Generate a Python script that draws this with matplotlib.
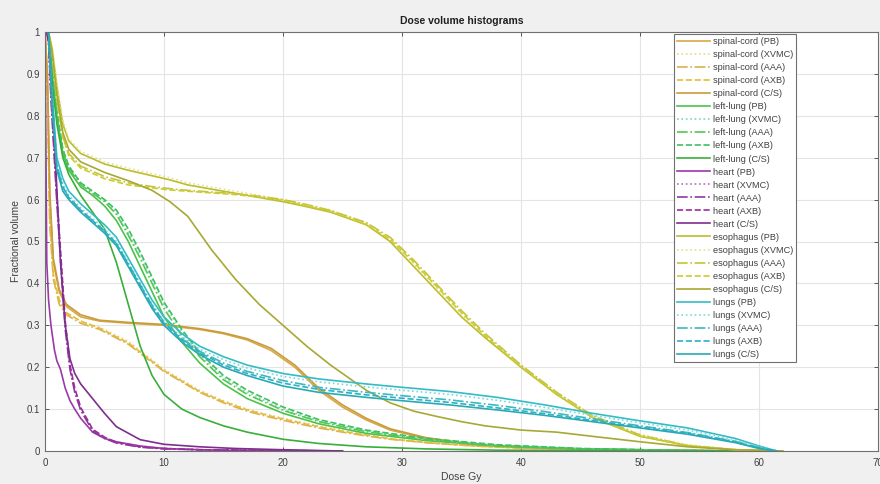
import matplotlib
matplotlib.use("Agg")
import matplotlib.pyplot as plt

# ---------------- data ----------------
structures = ["spinal-cord", "left-lung", "heart", "esophagus", "lungs"]
algorithms = ["PB", "XVMC", "AAA", "AXB", "C/S"]
x_ticks = [0, 10, 20, 30, 40, 50, 60, 70]
y_ticks = [0, 0.1, 0.2, 0.3, 0.4, 0.5, 0.6, 0.7, 0.8, 0.9, 1]
y_tick_labels = ["0", "0.1", "0.2", "0.3", "0.4", "0.5", "0.6", "0.7", "0.8", "0.9", "1"]

# spinal cord
spinal_dose = [0, 0.2, 0.4, 0.7, 1.2, 1.8, 3, 4.6, 7, 10, 13, 15, 17, 19, 21, 23, 25, 27, 29, 32, 36, 40, 45, 50, 55, 58]
spinal_pb   = [1, 0.9, 0.6, 0.45, 0.38, 0.345, 0.32, 0.31, 0.305, 0.3, 0.29, 0.28, 0.265, 0.24, 0.2, 0.145, 0.105, 0.074, 0.05, 0.03, 0.015, 0.008, 0.004, 0.002, 0.001, 0]
spinal_xvmc = [1, 0.85, 0.55, 0.42, 0.36, 0.33, 0.31, 0.295, 0.262, 0.195, 0.145, 0.12, 0.1, 0.085, 0.072, 0.06, 0.049, 0.039, 0.03, 0.021, 0.013, 0.008, 0.004, 0.002, 0.001, 0]
spinal_aaa  = [1, 0.85, 0.54, 0.41, 0.35, 0.325, 0.305, 0.29, 0.255, 0.19, 0.14, 0.115, 0.095, 0.08, 0.067, 0.055, 0.045, 0.036, 0.028, 0.02, 0.012, 0.007, 0.004, 0.002, 0.001, 0]
spinal_axb  = [1, 0.86, 0.56, 0.42, 0.36, 0.33, 0.31, 0.293, 0.258, 0.192, 0.142, 0.118, 0.098, 0.083, 0.07, 0.058, 0.047, 0.038, 0.029, 0.02, 0.012, 0.007, 0.004, 0.002, 0.001, 0]
spinal_cs   = [1, 0.9, 0.62, 0.46, 0.385, 0.35, 0.325, 0.312, 0.307, 0.302, 0.292, 0.282, 0.268, 0.245, 0.205, 0.15, 0.11, 0.078, 0.053, 0.032, 0.016, 0.009, 0.005, 0.003, 0.001, 0]

# left lung
llung_dose = [0, 0.3, 0.6, 1.0, 1.5, 2, 3, 4, 5, 6, 7, 8, 9, 10, 11.5, 13, 15, 17, 20, 23, 27, 32, 38, 45, 52, 58]
llung_pb   = [1, 1, 0.9, 0.8, 0.71, 0.67, 0.63, 0.61, 0.585, 0.55, 0.5, 0.44, 0.38, 0.32, 0.26, 0.21, 0.16, 0.125, 0.09, 0.065, 0.042, 0.025, 0.012, 0.005, 0.002, 0]
llung_xvmc = [1, 1, 0.91, 0.81, 0.72, 0.68, 0.64, 0.62, 0.6, 0.57, 0.52, 0.47, 0.41, 0.35, 0.285, 0.23, 0.175, 0.14, 0.1, 0.072, 0.048, 0.028, 0.014, 0.006, 0.002, 0]
llung_aaa  = [1, 1, 0.9, 0.8, 0.715, 0.675, 0.635, 0.615, 0.595, 0.565, 0.515, 0.46, 0.4, 0.34, 0.275, 0.225, 0.17, 0.135, 0.097, 0.07, 0.046, 0.027, 0.013, 0.005, 0.002, 0]
llung_axb  = [1, 1, 0.91, 0.81, 0.72, 0.68, 0.64, 0.62, 0.6, 0.575, 0.53, 0.475, 0.415, 0.355, 0.29, 0.235, 0.18, 0.145, 0.105, 0.075, 0.05, 0.03, 0.015, 0.006, 0.002, 0]
llung_cs   = [1, 1, 0.88, 0.78, 0.7, 0.66, 0.61, 0.57, 0.53, 0.45, 0.35, 0.25, 0.18, 0.135, 0.1, 0.08, 0.06, 0.045, 0.028, 0.018, 0.01, 0.005, 0.002, 0.001, 0, 0]

# heart
heart_dose = [0, 0.15, 0.3, 0.5, 0.8, 1.0, 1.3, 1.7, 2.1, 2.5, 3, 4, 5, 6, 8, 10, 13, 16, 20, 25]
heart_pb   = [1, 0.45, 0.36, 0.3, 0.24, 0.215, 0.195, 0.15, 0.12, 0.1, 0.078, 0.045, 0.03, 0.022, 0.012, 0.006, 0.003, 0.001, 0, 0]
heart_xvmc = [1, 1, 0.98, 0.85, 0.7, 0.6, 0.47, 0.3, 0.2, 0.145, 0.1, 0.05, 0.032, 0.02, 0.01, 0.006, 0.003, 0.002, 0.001, 0]
heart_aaa  = [1, 1, 0.97, 0.84, 0.69, 0.59, 0.46, 0.29, 0.195, 0.14, 0.097, 0.048, 0.03, 0.019, 0.009, 0.005, 0.003, 0.002, 0.001, 0]
heart_axb  = [1, 1, 0.98, 0.86, 0.71, 0.61, 0.48, 0.31, 0.205, 0.15, 0.104, 0.052, 0.033, 0.021, 0.01, 0.006, 0.003, 0.002, 0.001, 0]
heart_cs   = [1, 1, 0.98, 0.9, 0.75, 0.62, 0.45, 0.3, 0.22, 0.185, 0.16, 0.125, 0.09, 0.058, 0.027, 0.016, 0.01, 0.006, 0.003, 0]

# esophagus
eso_dose = [0, 0.3, 0.6, 1, 1.5, 2, 3, 5, 7, 9, 10.5, 12, 14, 16, 18, 20, 22, 24, 27, 29, 31, 33, 35, 37, 40, 43, 46, 50, 54, 58, 62]
eso_pb   = [1, 1, 0.96, 0.87, 0.78, 0.74, 0.71, 0.685, 0.67, 0.657, 0.647, 0.635, 0.625, 0.615, 0.605, 0.595, 0.583, 0.57, 0.54, 0.5, 0.44, 0.38, 0.32, 0.27, 0.2, 0.135, 0.08, 0.035, 0.013, 0.003, 0]
eso_xvmc = [1, 1, 0.97, 0.88, 0.79, 0.745, 0.715, 0.69, 0.675, 0.662, 0.652, 0.64, 0.63, 0.62, 0.61, 0.6, 0.588, 0.575, 0.545, 0.505, 0.445, 0.385, 0.325, 0.275, 0.205, 0.14, 0.085, 0.04, 0.015, 0.004, 0]
eso_aaa  = [1, 1, 0.95, 0.84, 0.75, 0.71, 0.68, 0.655, 0.64, 0.631, 0.626, 0.622, 0.618, 0.614, 0.608, 0.6, 0.588, 0.574, 0.545, 0.51, 0.455, 0.395, 0.335, 0.28, 0.205, 0.14, 0.085, 0.038, 0.013, 0.003, 0]
eso_axb  = [1, 1, 0.95, 0.84, 0.75, 0.705, 0.675, 0.65, 0.635, 0.628, 0.623, 0.62, 0.616, 0.612, 0.606, 0.598, 0.585, 0.572, 0.54, 0.505, 0.45, 0.39, 0.33, 0.275, 0.2, 0.135, 0.08, 0.036, 0.012, 0.003, 0]
eso_cs   = [1, 1, 0.95, 0.85, 0.76, 0.72, 0.69, 0.665, 0.645, 0.622, 0.595, 0.56, 0.48, 0.41, 0.35, 0.3, 0.25, 0.205, 0.145, 0.115, 0.095, 0.082, 0.07, 0.06, 0.05, 0.045, 0.035, 0.022, 0.01, 0.003, 0]

# lungs
lungs_dose = [0, 0.3, 0.6, 1.0, 1.5, 2, 3, 4, 5, 6, 7, 8, 9, 10, 11.5, 13, 15, 17, 20, 23, 27, 30, 34, 38, 42, 46, 50, 54, 58, 60, 61.5]
lungs_pb   = [1, 1, 0.85, 0.7, 0.65, 0.62, 0.59, 0.565, 0.54, 0.51, 0.46, 0.41, 0.36, 0.32, 0.28, 0.25, 0.225, 0.205, 0.185, 0.172, 0.16, 0.152, 0.142, 0.128, 0.11, 0.09, 0.072, 0.055, 0.03, 0.012, 0]
lungs_xvmc = [1, 1, 0.84, 0.69, 0.64, 0.61, 0.58, 0.555, 0.53, 0.5, 0.45, 0.4, 0.35, 0.31, 0.272, 0.243, 0.218, 0.198, 0.178, 0.165, 0.153, 0.145, 0.135, 0.121, 0.104, 0.085, 0.067, 0.05, 0.027, 0.01, 0]
lungs_aaa  = [1, 1, 0.83, 0.68, 0.63, 0.605, 0.575, 0.55, 0.525, 0.495, 0.447, 0.397, 0.348, 0.308, 0.268, 0.238, 0.21, 0.19, 0.168, 0.152, 0.14, 0.132, 0.122, 0.109, 0.094, 0.077, 0.06, 0.044, 0.023, 0.008, 0]
lungs_axb  = [1, 1, 0.83, 0.68, 0.63, 0.605, 0.575, 0.55, 0.525, 0.495, 0.445, 0.395, 0.345, 0.305, 0.265, 0.235, 0.205, 0.185, 0.162, 0.147, 0.134, 0.126, 0.116, 0.103, 0.089, 0.073, 0.057, 0.042, 0.022, 0.007, 0]
lungs_cs   = [1, 1, 0.83, 0.67, 0.62, 0.6, 0.57, 0.545, 0.52, 0.49, 0.44, 0.39, 0.34, 0.3, 0.26, 0.23, 0.2, 0.18, 0.155, 0.14, 0.128, 0.12, 0.11, 0.098, 0.085, 0.07, 0.055, 0.04, 0.02, 0.006, 0]

doses = [spinal_dose, llung_dose, heart_dose, eso_dose, lungs_dose]
volumes = [
    [spinal_pb, spinal_xvmc, spinal_aaa, spinal_axb, spinal_cs],
    [llung_pb, llung_xvmc, llung_aaa, llung_axb, llung_cs],
    [heart_pb, heart_xvmc, heart_aaa, heart_axb, heart_cs],
    [eso_pb, eso_xvmc, eso_aaa, eso_axb, eso_cs],
    [lungs_pb, lungs_xvmc, lungs_aaa, lungs_axb, lungs_cs],
]

# ---------------- styles ----------------
linestyles = ["-", ":", "-.", "--", "-"]
colors = [
    ["#d8a844", "#eed68a", "#dcb04c", "#e2bc3c", "#c89c3c"],   # spinal cord
    ["#4cc24c", "#7ad8b0", "#52c852", "#3cc060", "#3aae3a"],   # left lung
    ["#9a3aa8", "#b070c0", "#8e3aa0", "#9c2c9c", "#7e2e8e"],   # heart
    ["#bcbc2c", "#e2e290", "#c4c43c", "#cccc30", "#a8a834"],   # esophagus
    ["#34bcc4", "#7ad8dc", "#3cb8c0", "#2cb0c8", "#28aab4"],   # lungs
]

plt.rcParams["font.family"] = ["Liberation Sans", "DejaVu Sans"]

fig = plt.figure(figsize=(8.8, 4.84), dpi=100, facecolor="#f0f0f0")
ax = fig.add_axes([45 / 880, 1 - 451 / 484, (878 - 45) / 880, (451 - 32) / 484])
ax.set_facecolor("white")

for s, struct in enumerate(structures):
    for a, alg in enumerate(algorithms):
        ax.plot(doses[s], volumes[s][a], linestyle=linestyles[a], color=colors[s][a],
                linewidth=1.2, label=f"{struct} ({alg})")

ax.set_xlim(0, 70)
ax.set_ylim(0, 1)
ax.set_xticks(x_ticks)
ax.set_yticks(y_ticks)
ax.set_yticklabels(y_tick_labels)
ax.grid(True, color="#e4e4e4", linewidth=0.8)
ax.set_axisbelow(True)
ax.tick_params(direction="in", length=3, width=0.6, colors="#404040", labelsize=7,
               top=True, right=True)
ax.tick_params(axis="x", pad=5)
for sp in ax.spines.values():
    sp.set_color("#707070")
    sp.set_linewidth(0.8)

ax.set_title("Dose volume histograms", fontsize=7.5, fontweight="bold", color="#202020", pad=6)
ax.set_xlabel("Dose Gy", fontsize=7.5, color="#404040", labelpad=3)
ax.set_ylabel("Fractional volume", fontsize=7.5, color="#404040", labelpad=4)

leg = ax.legend(loc="upper right", bbox_to_anchor=(796 / 880, 1 - 34 / 484),
                bbox_transform=fig.transFigure, borderaxespad=0, fontsize=6.6,
                frameon=True, fancybox=False, edgecolor="#707070", framealpha=1,
                handlelength=3.6, handletextpad=0.25, labelspacing=0.44,
                borderpad=0.35)
leg.get_frame().set_linewidth(0.8)
for t in leg.get_texts():
    t.set_color("#404040")

fig.savefig("out.png", dpi=100, facecolor=fig.get_facecolor())
